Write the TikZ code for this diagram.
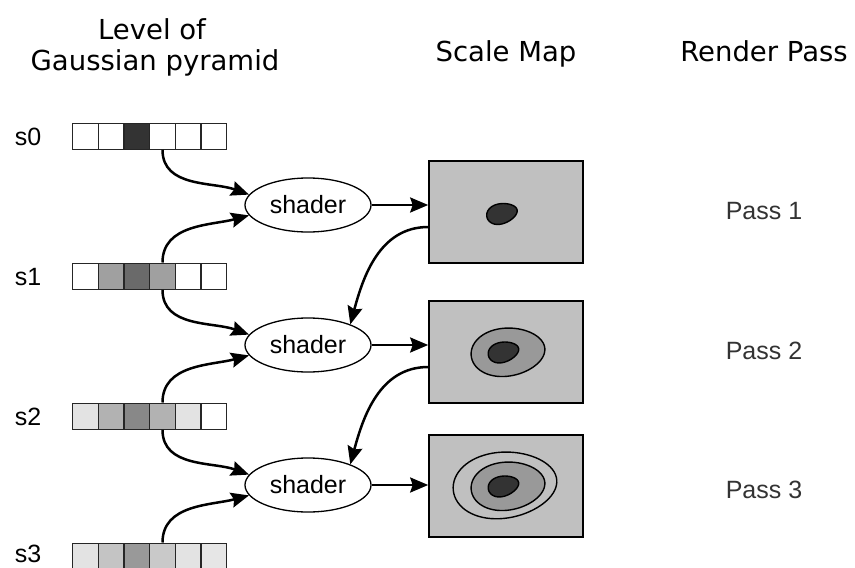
\documentclass[tikz,border=0pt]{standalone}
\usepackage{fontspec}
\setmainfont{Liberation Sans}
\newfontfamily\hdrfont{DejaVu Sans}
\usetikzlibrary{arrows.meta,shapes.geometric}
\definecolor{gA}{HTML}{333333}
\definecolor{gB}{HTML}{6A6A6A}
\definecolor{gC}{HTML}{A0A0A0}
\definecolor{gD}{HTML}{888888}
\definecolor{gE}{HTML}{B2B2B2}
\definecolor{gF}{HTML}{E3E3E3}
\definecolor{gG}{HTML}{999999}
\definecolor{gH}{HTML}{C4C4C4}
\definecolor{gI}{HTML}{C9C9C9}
\definecolor{gJ}{HTML}{E6E6E6}
\definecolor{mapgray}{HTML}{C0C0C0}
\definecolor{midgray}{HTML}{999999}
\definecolor{darkblob}{HTML}{333333}
\begin{document}
\begin{tikzpicture}[x=1pt,y=1pt,
  cell/.style={draw=black!85, line width=1.3pt, minimum width=25.67pt, minimum height=26pt, inner sep=0pt, anchor=north west},
  shader/.style={ellipse, draw, line width=1.3pt, minimum width=126pt, minimum height=54pt, inner sep=0pt, font=\fontsize{25}{30}\selectfont},
  mapbox/.style={draw, line width=1.6pt, fill=mapgray, minimum width=154pt, minimum height=102pt, inner sep=0pt},
  arr/.style={line width=2.5pt, -{Stealth[length=18pt,width=15pt,inset=2.5pt]}},
  lbl/.style={font=\fontsize{25}{30}\selectfont, anchor=base},
  passlbl/.style={lbl, text=black!80},
  hdr/.style={font=\hdrfont\fontsize{27.5}{30}\selectfont, anchor=base},
  blobline/.style={draw, line width=1.4pt},
]
\useasboundingbox (0,0) rectangle (855,-568);

% header
\node[hdr] (h1) at (152,-39) {Level of};
\node[hdr] (h2) at (155,-70) {Gaussian pyramid};
\node[hdr] (h3) at (506,-61) {Scale Map};
\node[hdr] (h4) at (764,-61) {Render Pass};

% pyramid rows
\foreach \r/\t/\cl in {0/122.5/{white,white,gA,white,white,white},
                       1/262.5/{white,gC,gB,gC,white,white},
                       2/402.5/{gF,gE,gD,gE,gF,white},
                       3/542.5/{gF,gH,gG,gI,gF,gJ}}{
  \foreach \c [count=\i] in \cl {
    \node[cell, fill=\c] (r\r-\i) at ({72+25.67*(\i-1)}, -\t) {};
  }
}
\node[lbl] (s0) at (28,-145) {s0};
\node[lbl] (s1) at (28,-285) {s1};
\node[lbl] (s2) at (28,-425) {s2};
\node[lbl] (s3) at (28,-562.5) {s3};

% shaders
\node[shader] (sh1) at (308,-205) {shader};
\node[shader] (sh2) at (308,-345) {shader};
\node[shader] (sh3) at (308,-485) {shader};

% scale maps
\node[mapbox] (m1) at (506,-212) {};
\node[mapbox] (m2) at (506,-352) {};
\node[mapbox] (m3) at (506,-486) {};

% blobs (egg-shaped contours)
\begin{scope}[shift={(m3.center)}, shift={(-1,1)}, rotate=6]
  \path[blobline] plot[variable=\t, domain=0:355, samples=72, smooth cycle]
    ({52*cos(\t)}, {33*sin(\t)*(1-0.08*cos(\t))});
\end{scope}
\foreach \m in {m2,m3}{
  \begin{scope}[shift={(\m.center)}, shift={(2,0)}, rotate=6]
    \path[blobline, fill=midgray] plot[variable=\t, domain=0:355, samples=72, smooth cycle]
      ({37*cos(\t)}, {24*sin(\t)*(1-0.08*cos(\t))});
  \end{scope}
}
\foreach \m/\dx/\dy in {m1/-4/-1.5, m2/-2.5/0, m3/-2.5/0}{
  \begin{scope}[shift={(\m.center)}, shift={(\dx,\dy)}, rotate=14]
    \path[blobline, fill=darkblob] plot[variable=\t, domain=0:355, samples=72, smooth cycle]
      ({15.5*cos(\t)}, {10*sin(\t)*(1-0.15*cos(\t))});
  \end{scope}
}

% render pass labels
\node[passlbl] (p1) at (764,-219) {Pass 1};
\node[passlbl] (p2) at (764,-359) {Pass 2};
\node[passlbl] (p3) at (764,-498) {Pass 3};

% shader -> map
\draw[arr] (sh1.east) -- (sh1.east -| m1.west);
\draw[arr] (sh2.east) -- (sh2.east -| m2.west);
\draw[arr] (sh3.east) -- (sh3.east -| m3.west);

% map -> next shader
\draw[arr] ([yshift=-15pt]m1.west) to[out=180,in=75] (sh2.26);
\draw[arr] ([yshift=-15pt]m2.west) to[out=180,in=75] (sh3.26);

% pyramid -> shader
\draw[arr] (r0-4.south) to[out=-90,in=160] (sh1.170);
\draw[arr] (r1-4.north) to[out=90,in=195] (sh1.190);
\draw[arr] (r1-4.south) to[out=-90,in=160] (sh2.170);
\draw[arr] (r2-4.north) to[out=90,in=195] (sh2.190);
\draw[arr] (r2-4.south) to[out=-90,in=160] (sh3.170);
\draw[arr] (r3-4.north) to[out=90,in=195] (sh3.190);
\end{tikzpicture}
\end{document}
